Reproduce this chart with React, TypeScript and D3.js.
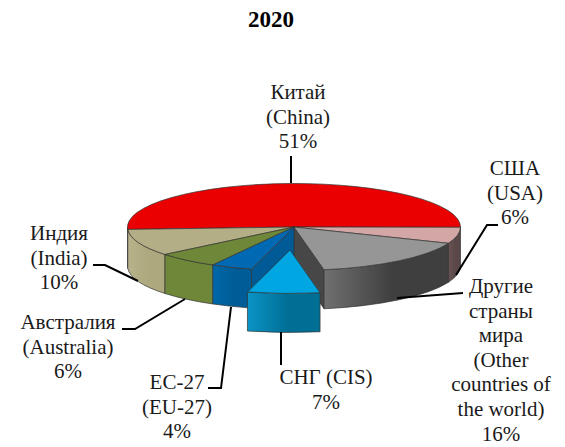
import React from "react";
import * as d3 from "d3";

const title = "2020";
const names = ["China", "USA", "Other", "CIS", "EU", "Australia", "India"];
const shares = [51, 6, 16, 7, 4, 6, 10];
const topColors = ["#ea0000", "#d3a7a5", "#969696", "#00a6e2", "#0069b4", "#6f8738", "#b4ae86"];
const wallStart = ["#ea0000", "#6b5454", "#707070", "#0a94c6", "#0068a8", "#6f8738", "#b8b28c"];
const wallEnd = ["#ea0000", "#5a4848", "#3f3f3f", "#006f96", "#005c96", "#6f8738", "#aea87e"];
const cutColors = ["#ea0000", "#5a4848", "#474747", "#006f96", "#005a96", "#6f8738", "#aea87e"];
const labelLines = [
  ["Китай", "(China)", "51%"],
  ["США", "(USA)", "6%"],
  ["Другие", "страны", "мира", "(Other", "countries of", "the world)", "16%"],
  ["СНГ (CIS)", "7%"],
  ["ЕС-27", "(EU-27)", "4%"],
  ["Австралия", "(Australia)", "6%"],
  ["Индия", "(India)", "10%"],
];
const labelX = [298, 515, 501, 326, 177, 68, 59];
const labelY = [99, 175, 293, 384, 389, 329, 240];
const leaders: [number, number][][] = [
  [[291, 156], [291, 183]],
  [[498, 225], [487, 225], [456, 275]],
  [[463, 293], [397, 298]],
  [[281, 332], [281, 365]],
  [[208, 388], [221, 388], [231, 307]],
  [[122, 329], [135, 329], [185, 299]],
  [[93, 265], [105, 265], [138, 281]],
];
const explodedIndex = 3;

const W = 565, H = 447;
const cx = 294, cy = 227, rx = 166.5, ry = 43.5, depth = 39;
const explodeX = -4, explodeY = 23;

const pt = (t: number, ox = 0, oy = 0, dz = 0): [number, number] => [
  cx + ox + rx * Math.cos(t),
  cy + oy + ry * Math.sin(t) + dz,
];

export default function App() {
  const deg = Math.PI / 180;
  const pie = d3.pie<number>().sort(null).startAngle(176.8 * deg).endAngle(536.8 * deg);
  const arcs = pie(shares);
  // Angles are measured clockwise from +x on screen, as ellipse parameters.
  const slices = arcs.map((a, i) => {
    const ox = i === explodedIndex ? explodeX : 0;
    const oy = i === explodedIndex ? explodeY : 0;
    const s = a.startAngle, e = a.endAngle;
    const p0 = pt(s, ox, oy), p1 = pt(e, ox, oy);
    const large = e - s > Math.PI ? 1 : 0;
    const top = `M${cx + ox},${cy + oy}L${p0[0]},${p0[1]}A${rx},${ry} 0 ${large} 1 ${p1[0]},${p1[1]}Z`;
    // visible outer wall: the portion in the front half (sin t >= 0)
    const norm = (t: number) => t % (2 * Math.PI);
    let ws = norm(s), we = ws + (e - s);
    let wall = "";
    let visibleS = ws, visibleE = we;
    if (ws >= Math.PI) { visibleS = 2 * Math.PI; }
    if (visibleE > Math.PI && visibleS < Math.PI) visibleE = Math.PI;
    if (visibleE > visibleS) {
      const a0 = pt(visibleS, ox, oy), a1 = pt(visibleE, ox, oy);
      const b0 = pt(visibleE, ox, oy, depth), b1 = pt(visibleS, ox, oy, depth);
      wall = `M${a0[0]},${a0[1]}A${rx},${ry} 0 0 1 ${a1[0]},${a1[1]}L${b0[0]},${b0[1]}A${rx},${ry} 0 0 0 ${b1[0]},${b1[1]}Z`;
    }
    const cutFace = (t: number) => {
      const q = pt(t, ox, oy), q2 = pt(t, ox, oy, depth);
      const c = [cx + ox, cy + oy];
      return `M${c[0]},${c[1]}L${q[0]},${q[1]}L${q2[0]},${q2[1]}L${c[0]},${c[1] + depth}Z`;
    };
    return { i, top, wall, s, e, cutFace, x0: Math.min(pt(visibleS)[0], pt(visibleE)[0]) + ox, x1: Math.max(pt(visibleS)[0], pt(visibleE)[0]) + ox };
  });
  const line = d3.line();
  const stroke = "#333";
  const order = [0, 1, 6, 5, 2, 4, 3];
  return (
    <svg width={W} height={H} style={{ position: "absolute", left: 0, top: 0, background: "#fff" }}>
      <defs>
        {slices.map((s) => (
          <linearGradient key={s.i} id={`w${s.i}`} gradientUnits="userSpaceOnUse" x1={s.x0} x2={s.x1} y1={0} y2={0}>
            <stop offset="0" stopColor={wallStart[s.i]} />
            <stop offset="0.55" stopColor={wallEnd[s.i]} />
            <stop offset="1" stopColor={wallEnd[s.i]} />
          </linearGradient>
        ))}
      </defs>
      <text x={271} y={27} textAnchor="middle" fontFamily="Liberation Serif" fontWeight="bold" fontSize={23}>{title}</text>
      {order.map((i) => {
        const s = slices[i];
        return (
          <g key={i} stroke={stroke} strokeWidth={0.7} strokeLinejoin="round">
            {i === 2 && <path d={s.cutFace(s.e)} fill={cutColors[2]} />}
            {i === 4 && <path d={s.cutFace(s.s)} fill={cutColors[4]} />}
            {s.wall && <path d={s.wall} fill={`url(#w${i})`} />}
            <path d={s.top} fill={topColors[i]} />
          </g>
        );
      })}
      {leaders.map((l, i) => (
        <path key={i} d={line(l) ?? ""} fill="none" stroke="#000" strokeWidth={2} />
      ))}
      {labelLines.map((ls, i) => (
        <text key={i} textAnchor="middle" fontFamily="Liberation Serif" fontSize={21} fill="#1a1a1a">
          {ls.map((t, j) => (
            <tspan key={j} x={labelX[i]} y={labelY[i] + j * 24.6}>{t}</tspan>
          ))}
        </text>
      ))}
    </svg>
  );
}
